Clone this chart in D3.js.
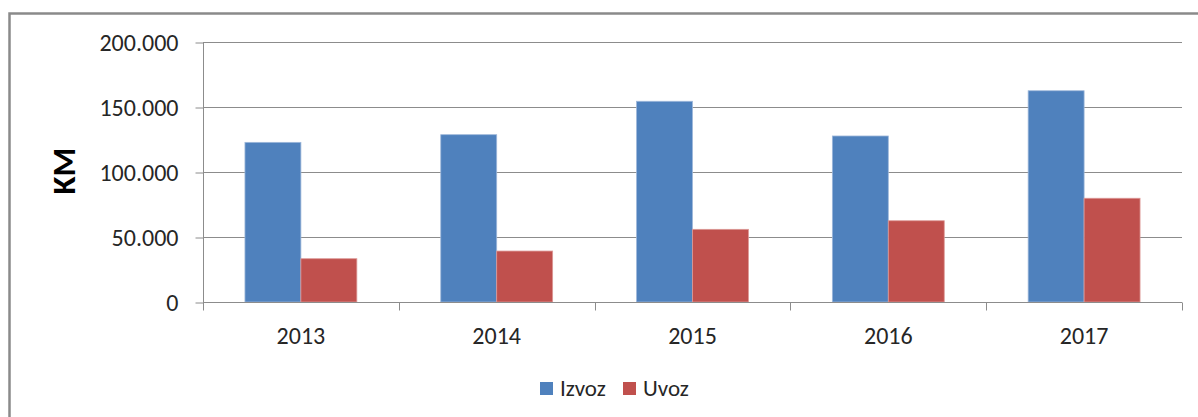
<!DOCTYPE html>
<html>
<head>
<meta charset="utf-8">
<script src="https://cdn.jsdelivr.net/npm/d3@7"></script>
<style>
  html, body { margin: 0; padding: 0; background: #fff; }
  svg { display: block; font-family: Carlito, Lato, "Open Sans", sans-serif; }
</style>
</head>
<body>
<div id="chart"></div>
<script>
// data
const years = ['2013', '2014', '2015', '2016', '2017'];
const seriesNames = ['Izvoz', 'Uvoz'];
const izvoz = [122800, 128700, 154400, 127700, 162500];
const uvoz = [33300, 39200, 55900, 62500, 79800];
const yTicks = [0, 50000, 100000, 150000, 200000];

const width = 1198;
const height = 417;
const plot = { left: 203, right: 1182, top: 42, bottom: 302 };
const colors = { Izvoz: '#4F81BD', Uvoz: '#C0504D' };
const strokes = { Izvoz: '#9db7da', Uvoz: '#dc9896' };
const gridColor = '#8c8c8c';
const textColor = '#262626';

const rows = years.map((y, i) => ({ year: y, Izvoz: izvoz[i], Uvoz: uvoz[i] }));

const fmt = d3.formatLocale({ decimal: ',', thousands: '.', grouping: [3], currency: ['', ''] }).format(',');

const svg = d3.select('#chart').append('svg')
  .attr('width', width)
  .attr('height', height);

// outer frame (runs off the right/bottom edge like the screenshot)
svg.append('rect')
  .attr('x', 9.5)
  .attr('y', 13.5)
  .attr('width', width + 20)
  .attr('height', height + 20)
  .attr('fill', 'none')
  .attr('stroke', '#8a8a8a')
  .attr('stroke-width', 2.5);

const xScale = d3.scaleBand()
  .domain(years)
  .range([plot.left, plot.right])
  .paddingInner(0)
  .paddingOuter(0);

const typeScale = d3.scaleBand()
  .domain(seriesNames)
  .range([0, xScale.bandwidth()])
  .paddingInner(0)
  .paddingOuter(0.75);

const yScale = d3.scaleLinear()
  .domain([0, 200000])
  .range([plot.bottom, plot.top]);

// gridlines + y axis
const yAxis = svg.append('g')
  .attr('transform', `translate(${plot.left + 0.5}, 0.5)`)
  .call(d3.axisLeft(yScale)
    .tickValues(yTicks)
    .tickSize(8)
    .tickPadding(17)
    .tickFormat(d => fmt(d)))
  .attr('font-family', null)
  .attr('font-size', null);
yAxis.select('.domain').remove();
yAxis.selectAll('.tick line').attr('stroke', gridColor);
yAxis.selectAll('.tick text')
  .attr('font-size', 24)
  .attr('fill', textColor);

svg.append('g')
  .attr('class', 'grid')
  .selectAll('line')
  .data(yTicks.filter(d => d > 0))
  .enter()
  .append('line')
  .attr('x1', plot.left)
  .attr('x2', plot.right)
  .attr('y1', d => Math.round(yScale(d)) + 0.5)
  .attr('y2', d => Math.round(yScale(d)) + 0.5)
  .attr('stroke', gridColor);

svg.append('line')
  .attr('x1', plot.left + 0.5)
  .attr('x2', plot.left + 0.5)
  .attr('y1', plot.top)
  .attr('y2', plot.bottom)
  .attr('stroke', gridColor);

// bars
svg.append('g')
  .attr('class', 'bars')
  .selectAll('g')
  .data(rows)
  .enter()
  .append('g')
  .attr('transform', d => `translate(${xScale(d.year)}, 0)`)
  .selectAll('rect')
  .data(d => seriesNames.map(key => ({ key: key, value: d[key] })))
  .enter()
  .append('rect')
  .attr('x', d => typeScale(d.key))
  .attr('y', d => yScale(d.value))
  .attr('width', typeScale.bandwidth())
  .attr('height', d => plot.bottom - yScale(d.value))
  .attr('fill', d => colors[d.key])
  .attr('stroke', d => strokes[d.key])
  .attr('stroke-width', 0.8);

// x axis with category boundary ticks
const xAxisG = svg.append('g')
  .attr('transform', `translate(0, ${plot.bottom + 0.5})`);
xAxisG.append('line')
  .attr('x1', plot.left)
  .attr('x2', plot.right)
  .attr('stroke', gridColor);
const bounds = years.map(y => xScale(y)).concat([plot.right]);
xAxisG.selectAll('.btick')
  .data(bounds)
  .enter()
  .append('line')
  .attr('class', 'btick')
  .attr('x1', d => Math.round(d) + 0.5)
  .attr('x2', d => Math.round(d) + 0.5)
  .attr('y1', 0)
  .attr('y2', 8)
  .attr('stroke', gridColor);
xAxisG.selectAll('.lbl')
  .data(years)
  .enter()
  .append('text')
  .attr('class', 'lbl')
  .attr('x', d => xScale(d) + xScale.bandwidth() / 2)
  .attr('y', 41)
  .attr('text-anchor', 'middle')
  .attr('font-size', 24)
  .attr('fill', textColor)
  .text(d => d);

// y axis title
svg.append('text')
  .attr('transform', 'translate(75, 171) rotate(-90)')
  .attr('text-anchor', 'middle')
  .attr('font-size', 33)
  .attr('font-weight', 'bold')
  .attr('fill', '#000')
  .text('KM');

// legend
const legendX = [540, 623];
const legend = svg.append('g')
  .attr('class', 'legend')
  .selectAll('g')
  .data(seriesNames)
  .enter()
  .append('g')
  .attr('transform', (d, i) => `translate(${legendX[i]}, 382)`);

legend.append('rect')
  .attr('width', 13)
  .attr('height', 13)
  .attr('fill', d => colors[d]);

legend.append('text')
  .attr('x', 20)
  .attr('y', 14)
  .attr('font-size', 23)
  .attr('fill', textColor)
  .text(d => d);
</script>
</body>
</html>
